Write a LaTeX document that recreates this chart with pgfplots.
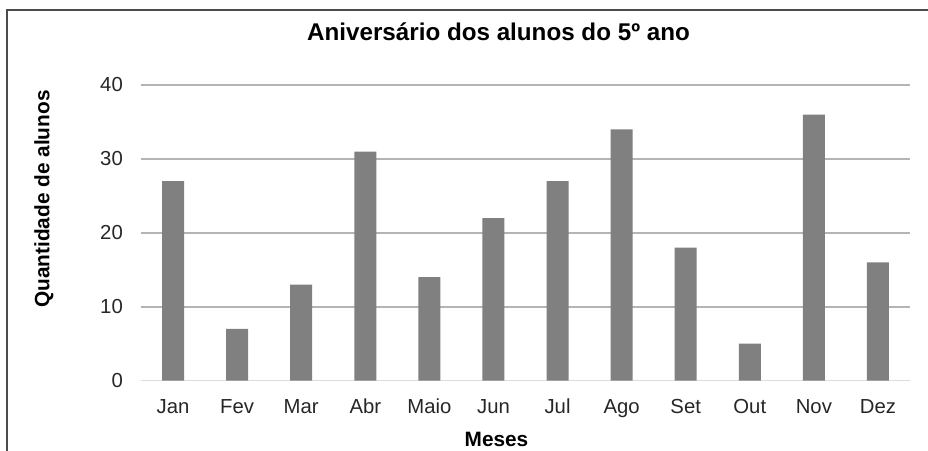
\documentclass[border=0pt]{standalone}
\usepackage{pgfplots}
\pgfplotsset{compat=1.18}
\usepackage{fontspec}
\setmainfont{Liberation Sans}
\definecolor{barc}{HTML}{808080}
\definecolor{gridc}{HTML}{B4B4B4}
\definecolor{zeroc}{HTML}{DCDCDC}
\definecolor{txtc}{HTML}{262626}
\begin{document}
\begin{tikzpicture}[x=1pt,y=1pt]
\useasboundingbox (0,0) rectangle (928,450);
\draw[line width=1.5pt, black!70] (7,-2) -- (7,440) -- (930,440);
\node[anchor=base, font=\fontsize{24.2}{28}\selectfont\bfseries, text=black] at (498.5,409.3) {Aniversário dos alunos do 5º ano};
\node[rotate=90, font=\fontsize{20.8}{24}\selectfont\bfseries, text=black] at (44,251) {Quantidade de alunos};
\node[anchor=base, font=\fontsize{20.8}{24}\selectfont\bfseries, text=black] at (496.5,4) {Meses};
\begin{axis}[
  at={(141pt,69.3pt)}, anchor=south west,
  width=769pt, height=295.7pt, scale only axis,
  xmin=-0.5, xmax=11.5, ymin=0, ymax=40,
  ytick={10,20,30,40},
  extra y ticks={0},
  extra y tick style={grid style={line width=1.5pt, color=zeroc}},
  xtick={0,...,11},
  xticklabels={Jan,Fev,Mar,Abr,Maio,Jun,Jul,Ago,Set,Out,Nov,Dez},
  axis line style={draw=none},
  ymajorgrids,
  grid style={line width=1.5pt, color=gridc},
  major tick length=0pt,
  tick style={draw=none},
  /pgf/number format/assume math mode=true,
  tick label style={font=\fontsize{20.3}{24}\selectfont, text=txtc, inner sep=0pt},
  yticklabel style={anchor=east, xshift=-18pt},
  xticklabel style={anchor=north, yshift=-18pt, text height=14.5pt, text depth=4.5pt},
  clip=false,
]
\addplot[ybar, bar width=22pt, fill=barc, draw=none] coordinates {
(0,27) (1,7) (2,13) (3,31) (4,14) (5,22) (6,27) (7,34) (8,18) (9,5) (10,36) (11,16)
};
\end{axis}
\end{tikzpicture}
\end{document}
